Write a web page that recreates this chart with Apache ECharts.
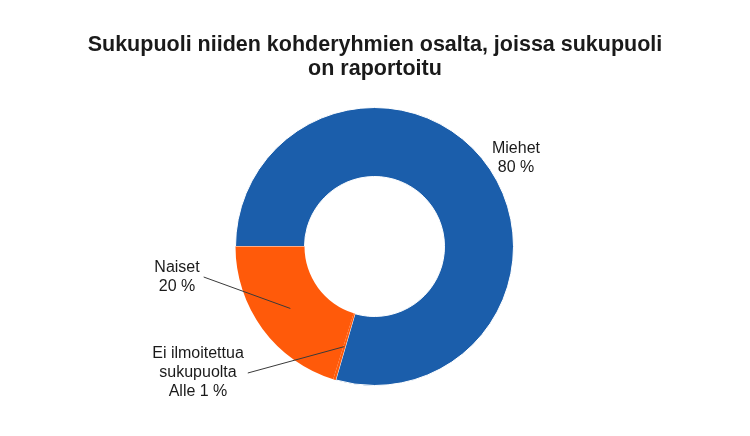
<!DOCTYPE html>
<html>
<head>
<meta charset="utf-8">
<script src="https://cdn.jsdelivr.net/npm/echarts@6/dist/echarts.min.js"></script>
<style>html,body{margin:0;padding:0;background:#fff}#c{width:750px;height:436px}</style>
</head>
<body>
<div id="c"></div>
<script>
const titleText = 'Sukupuoli niiden kohderyhmien osalta, joissa sukupuoli\non raportoitu';
const categories = ['Miehet', 'Ei ilmoitettua sukupuolta', 'Naiset'];
const values = [79.5, 0.3, 20.2];
const labelTexts = ['Miehet\n80 %', 'Ei ilmoitettua\nsukupuolta\nAlle 1 %', 'Naiset\n20 %'];
const colors = ['#1B5EAB', '#FF5A0A', '#FF5A0A'];
const borders = [1, 0, 0];

const CX = 374.5, CY = 246.5, R0 = 70, R1 = 139;
const labelPos = { 0: [516, 158], 1: [198, 373], 2: [177, 277] };
const showLine = { 0: false, 1: true, 2: true };
const FONT = 'Liberation Sans, Arial, sans-serif';

const chart = echarts.init(document.getElementById('c'), null, { renderer: 'canvas' });

const baseSeries = {
  type: 'pie',
  center: [CX, CY],
  radius: [R0, R1],
  startAngle: 180,
  clockwise: true,
  avoidLabelOverlap: false
};

chart.setOption({
  backgroundColor: '#fff',
  animation: false,
  title: {
    text: titleText,
    left: 'center',
    top: 28,
    textStyle: { fontFamily: FONT, fontWeight: 'bold', fontSize: 21.5, lineHeight: 24, color: '#1a1a1a' }
  },
  series: [
    Object.assign({}, baseSeries, {
      z: 2,
      label: { show: false },
      labelLine: { show: false },
      data: categories.map((c, i) => ({
        name: c,
        value: values[i],
        itemStyle: { color: colors[i], borderColor: '#fff', borderWidth: borders[i] }
      }))
    }),
    Object.assign({}, baseSeries, {
      z: 5,
      silent: true,
      itemStyle: { color: 'rgba(0,0,0,0)', borderWidth: 0 },
      label: {
        show: true,
        position: 'outside',
        fontFamily: FONT,
        fontSize: 16,
        lineHeight: 19,
        color: '#1a1a1a',
        align: 'center',
        formatter: p => labelTexts[p.dataIndex]
      },
      labelLine: { show: true, lineStyle: { color: '#3a3a3a', width: 1 } },
      labelLayout: function (p) {
        const pos = labelPos[p.dataIndex];
        const out = { x: pos[0], y: pos[1], align: 'center', verticalAlign: 'middle' };
        const lp = p.labelLinePoints;
        if (showLine[p.dataIndex] && lp) {
          const a = Math.atan2(lp[0][1] - CY, lp[0][0] - CX);
          const rm = (R0 + R1) / 2;
          const end = [CX + rm * Math.cos(a), CY + rm * Math.sin(a)];
          const start = [pos[0] + p.labelRect.width / 2 + 4, pos[1]];
          out.labelLinePoints = [start, end, end];
        }
        return out;
      },
      data: categories.map((c, i) => ({
        name: c,
        value: values[i],
        labelLine: { show: showLine[i] }
      }))
    })
  ]
});
</script>
</body>
</html>
